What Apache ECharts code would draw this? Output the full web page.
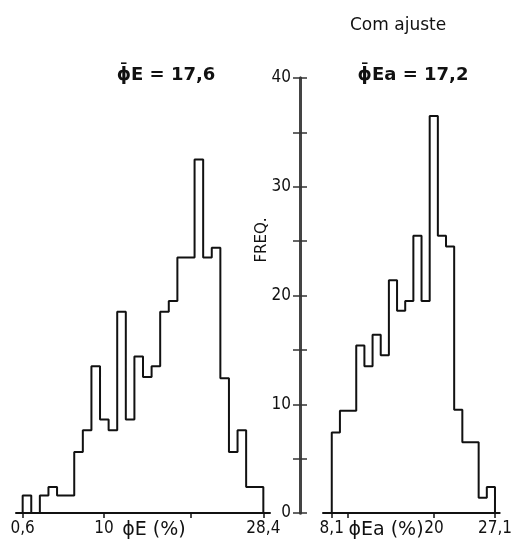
<!DOCTYPE html>
<html>
<head>
<meta charset="utf-8">
<script src="https://cdn.jsdelivr.net/npm/echarts@6/dist/echarts.min.js"></script>
<style>
  html, body { margin: 0; padding: 0; background: #fff; }
  #chart { width: 515px; height: 550px; }
</style>
</head>
<body>
<div id="chart"></div>
<script>
// Effective porosity ϕE (%), frequency per class, classes spanning 0,6 – 28,4
const phiEMin = 0.6;
const phiEMax = 28.4;
const phiEFreq = [1.6, 0, 1.6, 2.4, 1.6, 1.6, 5.6, 7.6, 13.5, 8.6, 7.6, 18.5, 8.6, 14.4,
                  12.5, 13.5, 18.5, 19.5, 23.5, 23.5, 32.5, 23.5, 24.4, 12.4, 5.6, 7.6, 2.4, 2.4];
const phiETicks = [0.6, 10, 20, 28.4];
const phiELabels = [0.6, 10, 28.4];

// Adjusted effective porosity ϕEa (%), classes spanning 8,1 – 27,1
const phiEaMin = 8.1;
const phiEaMax = 27.1;
const phiEaFreq = [7.4, 9.4, 9.4, 15.4, 13.5, 16.4, 14.5, 21.4, 18.6, 19.5, 25.5, 19.5,
                   36.5, 25.5, 24.5, 9.5, 6.5, 6.5, 1.4, 2.4];
const phiEaTicks = [8.1, 10, 20, 27.1];
const phiEaLabels = [8.1, 20, 27.1];

// Frequency axis
const freqMax = 40;
const freqStep = 5;
const freqLabelStep = 10;

const INK = '#111';
const NUM_FONT = '"DejaVu Sans Condensed", "Liberation Sans", sans-serif';

// Histogram outline: one point per class start, closed down to zero at both ends
function stepOutline(min, max, freq) {
  const w = (max - min) / freq.length;
  const pts = [[min, 0]];
  freq.forEach((f, i) => pts.push([min + i * w, f]));
  pts.push([max, 0]);
  return pts;
}

const decimalComma = v => String(v).replace('.', ',');

function classAxis(gridIndex, lo, hi, ticks, labels) {
  return {
    type: 'value', gridIndex, min: lo, max: hi,
    axisLine: { show: true, onZero: false, lineStyle: { color: INK, width: 2 } },
    axisTick: { show: true, customValues: ticks, length: 5, lineStyle: { color: INK, width: 1.5 } },
    axisLabel: {
      show: true, customValues: labels, formatter: decimalComma,
      fontFamily: NUM_FONT, fontSize: 17, color: INK, margin: 7
    },
    splitLine: { show: false }
  };
}

function freqAxis(gridIndex, extra) {
  return Object.assign({
    type: 'value', gridIndex, min: 0, max: freqMax, interval: freqStep,
    position: 'left', offset: 23,
    axisLine: { show: true, lineStyle: { color: '#444', width: 3 } },
    splitLine: { show: false }
  }, extra);
}

const chart = echarts.init(document.getElementById('chart'), null, { renderer: 'canvas' });

chart.setOption({
  animation: false,
  backgroundColor: '#fff',
  grid: [
    { left: 16, top: 78, width: 254, height: 435 },
    { left: 323, top: 78, width: 187, height: 435 }
  ],
  xAxis: [
    classAxis(0, -0.17, 29.17, phiETicks, phiELabels),
    classAxis(1, 7.08, 27.65, phiEaTicks, phiEaLabels)
  ],
  yAxis: [
    { type: 'value', gridIndex: 0, min: 0, max: freqMax, show: false },
    freqAxis(1, {
      axisTick: { show: true, length: 7, lineStyle: { color: '#333', width: 1.5 } },
      axisLabel: {
        show: true, margin: 9, fontFamily: NUM_FONT, fontSize: 17, color: INK,
        formatter: v => (v % freqLabelStep === 0 ? String(v) : '')
      }
    }),
    freqAxis(1, {
      axisTick: { show: true, inside: true, length: 7, lineStyle: { color: '#333', width: 1.5 } },
      axisLabel: { show: false }
    })
  ],
  graphic: [
    {
      type: 'text', left: 350, top: 17,
      style: { text: 'Com ajuste', font: '17px "DejaVu Sans"', fill: INK }
    },
    {
      type: 'text', x: 166, y: 75,
      style: { text: 'ϕ̄E = 17,6', font: '600 18px "DejaVu Sans"', fill: INK,
               align: 'center', verticalAlign: 'middle' }
    },
    {
      type: 'text', x: 413, y: 75,
      style: { text: 'ϕ̄Ea = 17,2', font: '600 18px "DejaVu Sans"', fill: INK,
               align: 'center', verticalAlign: 'middle' }
    },
    {
      type: 'text', x: 262, y: 240, rotation: Math.PI / 2,
      style: { text: 'FREQ.', font: '15px "DejaVu Sans"', fill: INK,
               align: 'center', verticalAlign: 'middle' }
    },
    {
      type: 'text', x: 154, y: 530,
      style: { text: 'ϕE (%)', font: '19px "DejaVu Sans"', fill: INK,
               align: 'center', verticalAlign: 'middle' }
    },
    {
      type: 'text', x: 386, y: 530,
      style: { text: 'ϕEa (%)', font: '19px "DejaVu Sans"', fill: INK,
               align: 'center', verticalAlign: 'middle' }
    }
  ],
  series: [
    {
      type: 'line', xAxisIndex: 0, yAxisIndex: 0, step: 'end', symbol: 'none', silent: true,
      lineStyle: { color: INK, width: 2 },
      data: stepOutline(phiEMin, phiEMax, phiEFreq)
    },
    {
      type: 'line', xAxisIndex: 1, yAxisIndex: 1, step: 'end', symbol: 'none', silent: true,
      lineStyle: { color: INK, width: 2 },
      data: stepOutline(phiEaMin, phiEaMax, phiEaFreq)
    }
  ]
});
</script>
</body>
</html>
